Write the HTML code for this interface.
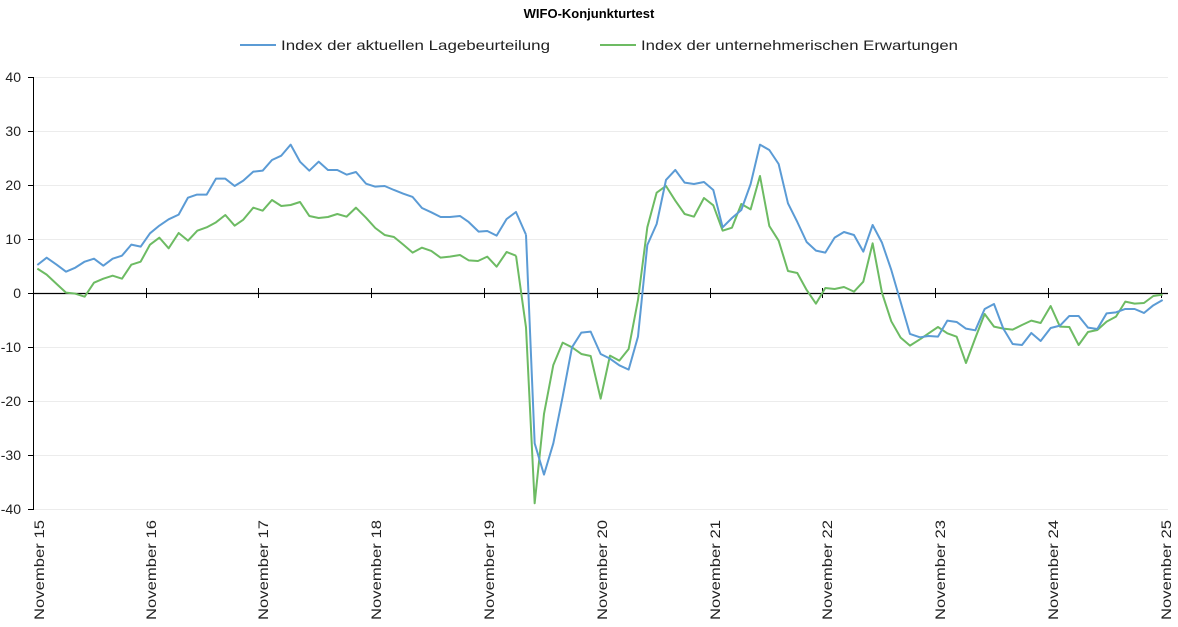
<!DOCTYPE html>
<html><head><meta charset="utf-8"><style>
html,body{margin:0;padding:0;background:#fff;width:1178px;height:627px;overflow:hidden}
svg{display:block;font-family:"Liberation Sans",sans-serif}
.l{fill:none;stroke-width:2;vector-effect:non-scaling-stroke;stroke-linejoin:round}
</style></head><body>
<svg width="1178" height="627" viewBox="0 0 1178 627">
<text x="589" y="18" text-anchor="middle" font-size="13" font-weight="bold" fill="#000">WIFO-Konjunkturtest</text>
<line x1="240" y1="45" x2="276" y2="45" stroke="#5b9bd5" stroke-width="2"/>
<text x="281" y="50" font-size="14" fill="#222" textLength="269" lengthAdjust="spacingAndGlyphs">Index der aktuellen Lagebeurteilung</text>
<line x1="600" y1="45" x2="636" y2="45" stroke="#6dbb63" stroke-width="2"/>
<text x="641" y="50" font-size="14" fill="#222" textLength="317" lengthAdjust="spacingAndGlyphs">Index der unternehmerischen Erwartungen</text>
<g stroke="#ececec" stroke-width="1">
<line x1="34" y1="77.5" x2="1168" y2="77.5"/><line x1="34" y1="131.5" x2="1168" y2="131.5"/>
<line x1="34" y1="185.5" x2="1168" y2="185.5"/><line x1="34" y1="239.5" x2="1168" y2="239.5"/>
<line x1="34" y1="347.5" x2="1168" y2="347.5"/><line x1="34" y1="401.5" x2="1168" y2="401.5"/>
<line x1="34" y1="455.5" x2="1168" y2="455.5"/><line x1="34" y1="509.5" x2="1168" y2="509.5"/>
</g>
<line x1="33.5" y1="77" x2="33.5" y2="510" stroke="#000"/>
<g stroke="#000"><line x1="28" y1="77.5" x2="34" y2="77.5"/><line x1="28" y1="131.5" x2="34" y2="131.5"/><line x1="28" y1="185.5" x2="34" y2="185.5"/><line x1="28" y1="239.5" x2="34" y2="239.5"/><line x1="28" y1="293.5" x2="34" y2="293.5"/><line x1="28" y1="347.5" x2="34" y2="347.5"/><line x1="28" y1="401.5" x2="34" y2="401.5"/><line x1="28" y1="455.5" x2="34" y2="455.5"/><line x1="28" y1="509.5" x2="34" y2="509.5"/></g>
<g font-size="14" fill="#222" text-anchor="end">
<text x="21" y="82">40</text><text x="21" y="136">30</text><text x="21" y="190">20</text><text x="21" y="244">10</text><text x="21" y="298">0</text><text x="21" y="352">-10</text><text x="21" y="406">-20</text><text x="21" y="460">-30</text><text x="21" y="514">-40</text>
</g>
<line x1="34" y1="293.5" x2="1168" y2="293.5" stroke="#000" stroke-width="1.3"/>
<g stroke="#000">
<line x1="146.5" y1="288" x2="146.5" y2="298"/><line x1="258.5" y1="288" x2="258.5" y2="298"/><line x1="371.5" y1="288" x2="371.5" y2="298"/><line x1="484.5" y1="288" x2="484.5" y2="298"/><line x1="597.5" y1="288" x2="597.5" y2="298"/><line x1="710.5" y1="288" x2="710.5" y2="298"/><line x1="822.5" y1="288" x2="822.5" y2="298"/><line x1="935.5" y1="288" x2="935.5" y2="298"/><line x1="1048.5" y1="288" x2="1048.5" y2="298"/><line x1="1161.5" y1="288" x2="1161.5" y2="298"/>
</g>
<g font-size="14" fill="#222" text-anchor="end">
<text transform="translate(44,520) rotate(-90)" textLength="100" lengthAdjust="spacingAndGlyphs">November 15</text>
<text transform="translate(156,520) rotate(-90)" textLength="100" lengthAdjust="spacingAndGlyphs">November 16</text>
<text transform="translate(268,520) rotate(-90)" textLength="100" lengthAdjust="spacingAndGlyphs">November 17</text>
<text transform="translate(381,520) rotate(-90)" textLength="100" lengthAdjust="spacingAndGlyphs">November 18</text>
<text transform="translate(494,520) rotate(-90)" textLength="100" lengthAdjust="spacingAndGlyphs">November 19</text>
<text transform="translate(607,520) rotate(-90)" textLength="100" lengthAdjust="spacingAndGlyphs">November 20</text>
<text transform="translate(720,520) rotate(-90)" textLength="100" lengthAdjust="spacingAndGlyphs">November 21</text>
<text transform="translate(832,520) rotate(-90)" textLength="100" lengthAdjust="spacingAndGlyphs">November 22</text>
<text transform="translate(945,520) rotate(-90)" textLength="100" lengthAdjust="spacingAndGlyphs">November 23</text>
<text transform="translate(1058,520) rotate(-90)" textLength="100" lengthAdjust="spacingAndGlyphs">November 24</text>
<text transform="translate(1171,520) rotate(-90)" textLength="100" lengthAdjust="spacingAndGlyphs">November 25</text>
</g>
<!-- green -->
<g transform="translate(30,110) scale(0.3333)"><polyline class="l" stroke="#6dbb63" points="22,476 50,494 80,522 108,548 136,551 164,560 192,518 220,506 248,497 276,506 304,464 332,455 360,404 388,383 416,415 446,369 474,392 502,362 530,352 558,337 586,315 614,347 640,329 670,293 698,302 726,270 754,288 782,285 810,276 838,318 866,324 894,321 922,312 950,320 978,293 1008,323 1036,354 1064,375 1092,381 1120,404 1148,428 1176,413 1204,423 1232,443 1260,440 1290,435 1316,451 1344,453 1372,440 1400,470 1430,426 1458,437"/></g>
<g transform="translate(500,110) scale(0.3333)"><polyline class="l" stroke="#6dbb63" points="48,437 78,652 104,1180 132,912 160,765 188,698 216,712 244,732 272,738 302,866 330,737 358,752 386,717 414,570 442,352 470,248 498,228 526,272 554,312 582,320 612,264 640,286 668,362 696,353 724,282 752,298 780,198 808,348 836,392 864,483 892,489 920,540 948,581 976,534 1004,537 1032,531 1062,545 1090,515 1118,400 1146,548 1174,634 1202,683 1230,707 1260,688"/></g>
<g transform="translate(860,200) scale(0.3333)"><polyline class="l" stroke="#6dbb63" points="180,418 206,400 234,381 262,400 290,410 318,489 346,414 374,342 402,380 430,386 458,389 486,375 514,362 542,369 572,318 600,380 628,381 656,435 684,396 712,390 740,365 768,350 796,305 824,311 852,309 880,288 908,284"/></g>
<!-- blue -->
<g transform="translate(30,110) scale(0.3333)"><polyline class="l" stroke="#5b9bd5" points="22,465 50,443 80,464 108,485 136,473 164,455 192,446 220,467 248,446 276,437 304,404 332,410 360,370 388,347 416,328 446,314 474,263 500,254 530,254 558,206 586,206 614,228 640,212 670,185 698,182 726,150 754,137 782,104 810,155 838,182 866,155 894,180 922,180 950,194 978,186 1008,221 1036,230 1064,228 1092,240 1120,251 1148,261 1176,294 1204,307 1232,321 1260,321 1290,318 1316,336 1346,365 1372,363 1400,377 1430,327 1458,306 1488,374"/></g>
<g transform="translate(500,110) scale(0.3333)"><polyline class="l" stroke="#5b9bd5" points="78,374 104,1000 132,1094 160,1000 188,860 216,712 244,668 272,665 302,732 330,746 358,766 386,779 414,680 442,405 470,342 498,210 526,180 554,218 582,222 612,216 640,240 668,352 696,324 724,300 752,222 780,104 808,120 836,162 864,280 892,336 920,396 948,422 976,428 1004,383 1032,366 1062,375 1090,425 1118,345 1146,398 1174,480 1202,576 1230,672 1260,682"/></g>
<g transform="translate(860,200) scale(0.3333)"><polyline class="l" stroke="#5b9bd5" points="180,412 206,408 234,410 262,362 290,366 318,386 346,391 374,327 402,312 430,386 458,432 486,435 514,399 542,423 572,384 600,377 628,348 656,348 684,383 712,387 740,340 768,337 796,327 824,327 852,339 880,316 908,300"/></g>
</svg>
</body></html>
